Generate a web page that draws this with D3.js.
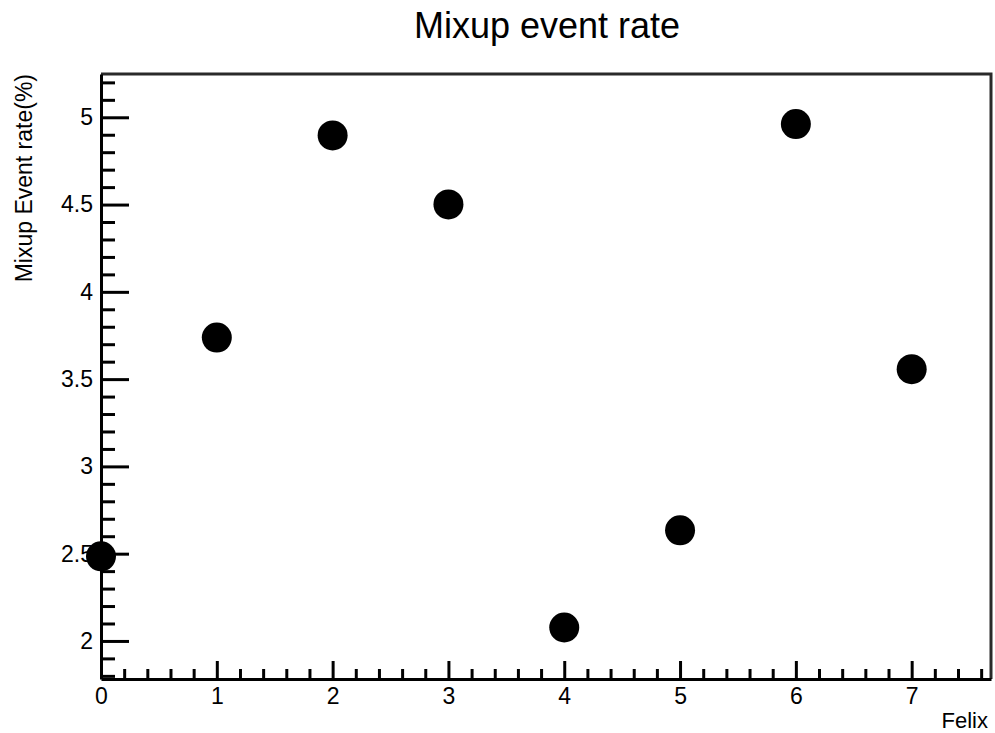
<!DOCTYPE html>
<html>
<head>
<meta charset="utf-8">
<script src="https://cdn.jsdelivr.net/npm/d3@7"></script>
<style>
  html, body { margin: 0; padding: 0; background: #fff; }
  svg { display: block; font-family: "Liberation Sans", Arial, Helvetica, sans-serif; }
</style>
</head>
<body>
<svg id="chart" width="995" height="733"></svg>
<script>
// Felix index vs. mixup event rate (%)
const felix = [0, 1, 2, 3, 4, 5, 6, 7];
const rate = [2.485, 3.738, 4.896, 4.501, 2.077, 2.634, 4.961, 3.557];

const xMajorTicks = [0, 1, 2, 3, 4, 5, 6, 7];
const yMajorTicks = [2, 2.5, 3, 3.5, 4, 4.5, 5];
const xDomain = [0, 7.685];
const yDomain = [1.782, 5.248];

const titleText = "Mixup event rate";
const xTitle = "Felix";
const yTitle = "Mixup Event rate(%)";

const svg = d3.select("#chart");
const frame = { left: 101, right: 991, top: 74, bottom: 679 };

const x = d3.scaleLinear().domain(xDomain).range([frame.left, frame.right]);
const y = d3.scaleLinear().domain(yDomain).range([frame.bottom, frame.top]);

svg.append("rect").attr("width", 995).attr("height", 733).attr("fill", "#fff");

// frame (top and right edges)
svg.append("path")
  .attr("d", `M${frame.left},${frame.top}H${frame.right}V${frame.bottom}`)
  .attr("fill", "none").attr("stroke", "#2a2a2a").attr("stroke-width", 3);

// minor ticks
const xMinor = d3.range(0, 7.61, 0.2).map(v => +v.toFixed(1)).filter(v => !xMajorTicks.includes(v));
const yMinor = d3.range(1.8, 5.21, 0.1).map(v => +v.toFixed(1)).filter(v => !yMajorTicks.includes(v));

svg.append("g")
  .attr("transform", `translate(0,${frame.bottom})`)
  .call(d3.axisBottom(x).tickValues(xMinor).tickSizeInner(-10).tickSizeOuter(0).tickFormat(""))
  .call(g => g.select(".domain").remove())
  .selectAll("line").attr("stroke", "#000").attr("stroke-width", 3);

svg.append("g")
  .attr("transform", `translate(${frame.left},0)`)
  .call(d3.axisLeft(y).tickValues(yMinor).tickSizeInner(-14).tickSizeOuter(0).tickFormat(""))
  .call(g => g.select(".domain").remove())
  .selectAll("line").attr("stroke", "#000").attr("stroke-width", 3);

// major axes
const gx = svg.append("g")
  .attr("transform", `translate(0,${frame.bottom})`)
  .call(d3.axisBottom(x).tickValues(xMajorTicks).tickSizeInner(-18).tickSizeOuter(0).tickPadding(9).tickFormat(d3.format("d")));
gx.select(".domain").attr("stroke", "#000").attr("stroke-width", 3);
gx.selectAll("line").attr("stroke", "#000").attr("stroke-width", 3);
gx.selectAll("text").attr("font-size", 23).attr("fill", "#000").attr("font-family", null);

const gy = svg.append("g")
  .attr("transform", `translate(${frame.left},0)`)
  .call(d3.axisLeft(y).tickValues(yMajorTicks).tickSizeInner(-28).tickSizeOuter(0).tickPadding(8).tickFormat(d => String(d)));
gy.select(".domain").attr("stroke", "#000").attr("stroke-width", 3);
gy.selectAll("line").attr("stroke", "#000").attr("stroke-width", 3);
gy.selectAll("text").attr("font-size", 23).attr("fill", "#000").attr("font-family", null);

// titles
svg.append("text")
  .attr("x", 547).attr("y", 38)
  .attr("text-anchor", "middle").attr("font-size", 36).attr("fill", "#000")
  .text(titleText);

svg.append("text")
  .attr("x", 988).attr("y", 728)
  .attr("text-anchor", "end").attr("font-size", 22).attr("fill", "#000")
  .text(xTitle);

svg.append("text")
  .attr("transform", `translate(32,${frame.top}) rotate(-90)`)
  .attr("text-anchor", "end").attr("font-size", 23).attr("fill", "#000")
  .text(yTitle);

// markers
svg.append("g").selectAll("circle")
  .data(felix.map((f, i) => ({ f, r: rate[i] })))
  .join("circle")
  .attr("cx", d => x(d.f))
  .attr("cy", d => y(d.r))
  .attr("r", 15)
  .attr("fill", "#000");
</script>
</body>
</html>
